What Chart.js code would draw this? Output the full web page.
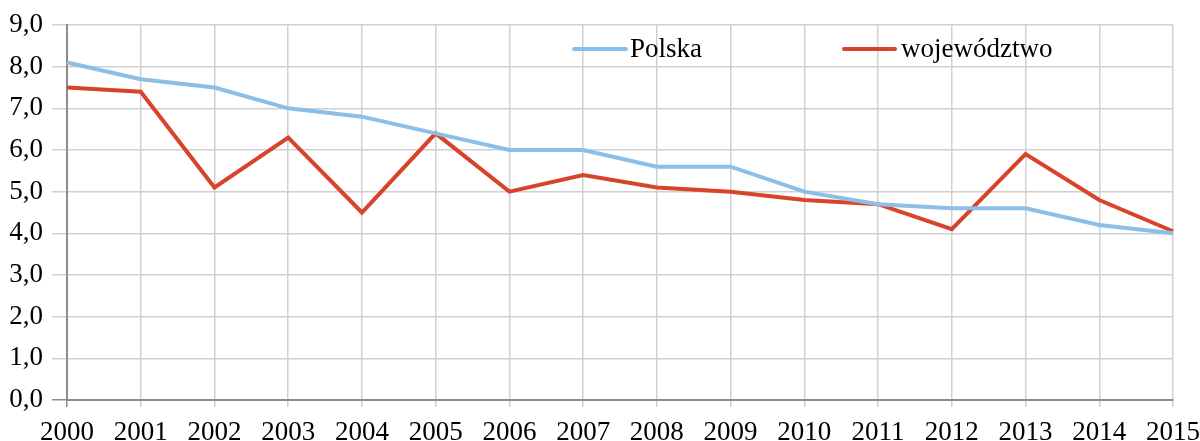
<!DOCTYPE html>
<html><head><meta charset="utf-8">
<script src="https://cdn.jsdelivr.net/npm/chart.js@4/dist/chart.umd.min.js"></script>
<style>html,body{margin:0;padding:0;background:#fff;}#wrap{width:1200px;height:441px;}</style>
</head><body><div id="wrap"><canvas id="c" width="1200" height="441"></canvas></div>
<script>
const years = ['2000','2001','2002','2003','2004','2005','2006','2007','2008','2009','2010','2011','2012','2013','2014','2015'];
const polska = [8.1,7.7,7.5,7.0,6.8,6.4,6.0,6.0,5.6,5.6,5.0,4.7,4.6,4.6,4.2,4.0];
const wojewodztwo = [7.5,7.4,5.1,6.3,4.5,6.4,5.0,5.4,5.1,5.0,4.8,4.7,4.1,5.9,4.8,4.05];
const seriesLabels = ['Polska','województwo'];
const FONT = "'Liberation Serif', 'Times New Roman', serif";
const GRID = '#D0D0D0';
const AXIS = '#8C8C8C';

const legendPlugin = {
  id: 'innerLegend',
  afterDraw(chart) {
    const ctx = chart.ctx;
    const items = [{x0:574,x1:626,tx:630},{x0:844,x1:895,tx:901}];
    const y = 49;
    chart.data.datasets.forEach((ds, i) => {
      const it = items[i];
      ctx.save();
      ctx.strokeStyle = ds.borderColor;
      ctx.lineWidth = 4;
      ctx.lineCap = 'round';
      ctx.beginPath(); ctx.moveTo(it.x0, y); ctx.lineTo(it.x1, y); ctx.stroke();
      ctx.fillStyle = '#000';
      ctx.font = '27px ' + FONT;
      ctx.textBaseline = 'middle';
      ctx.fillText(ds.label, it.tx, y + 1);
      ctx.restore();
    });
  }
};

new Chart(document.getElementById('c'), {
  type: 'line',
  data: {
    labels: years,
    datasets: [
      {label: seriesLabels[0], data: polska, borderColor: '#8DBEE6', borderWidth: 4, pointRadius: 0, tension: 0},
      {label: seriesLabels[1], data: wojewodztwo, borderColor: '#D8432B', borderWidth: 4, pointRadius: 0, tension: 0}
    ]
  },
  options: {
    responsive: false,
    animation: false,
    devicePixelRatio: 1,
    layout: {padding: {left: 0, right: 27, top: 25, bottom: 0}},
    plugins: {legend: {display: false}, tooltip: {enabled: false}},
    scales: {
      x: {
        offset: false,
        grid: {color: GRID, lineWidth: 1.5, tickLength: 7, tickColor: c => c.index === 0 ? AXIS : GRID},
        border: {color: AXIS, width: 2},
        ticks: {font: {family: FONT, size: 27}, color: '#000', padding: 10, maxRotation: 0, autoSkip: false},
        afterFit(s) { s.height = 41; s.paddingRight = 0; s.paddingLeft = 0; }
      },
      y: {
        min: 0, max: 9,
        grid: {color: GRID, lineWidth: 1.5, tickLength: 15, tickColor: c => c.index === 0 ? AXIS : GRID},
        border: {color: AXIS, width: 2},
        ticks: {stepSize: 1, font: {family: FONT, size: 27}, color: '#000', padding: 9,
          callback: v => v.toFixed(1).replace('.', ',')},
        afterFit(s) { s.width = 67; s.paddingTop = 0; s.paddingBottom = 0; }
      }
    }
  },
  plugins: [legendPlugin]
});
</script></body></html>
